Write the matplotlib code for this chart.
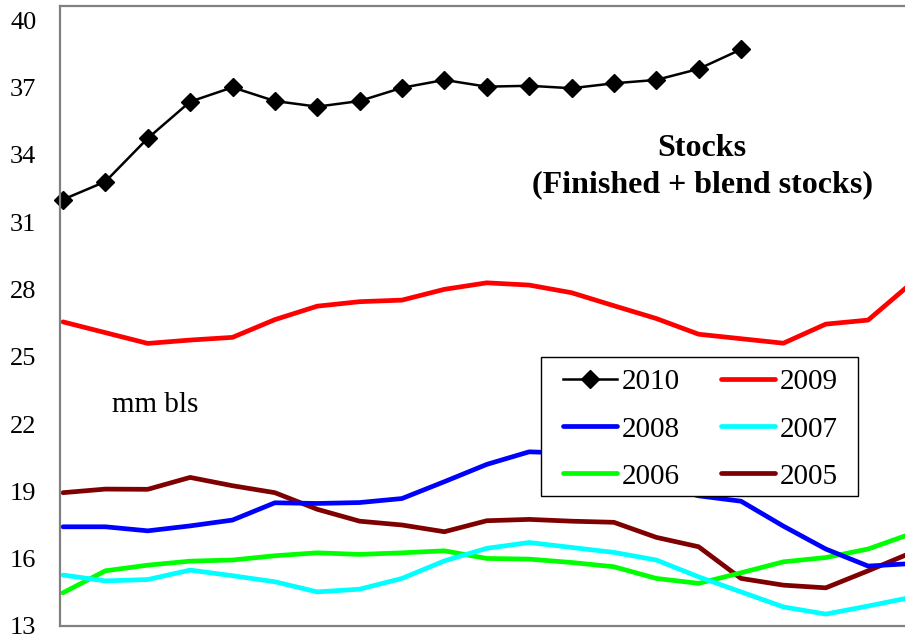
import matplotlib
matplotlib.use("Agg")
import matplotlib.pyplot as plt
from matplotlib.patches import Rectangle
import numpy as np

# weekly gasoline stocks, mm bls
s2010 = [32.0, 32.8, 34.73, 36.36, 37.0, 36.39, 36.14, 36.39, 36.98, 37.33,
         37.03, 37.07, 36.96, 37.18, 37.33, 37.82, 38.69]
s2009 = [26.55, 26.07, 25.59, 25.74, 25.86, 26.65, 27.25, 27.45, 27.52, 28.0,
         28.29, 28.19, 27.85, 27.27, 26.7, 26.0, 25.8, 25.6, 26.45, 26.63, 28.24]
s2008 = [17.42, 17.42, 17.24, 17.46, 17.72, 18.49, 18.46, 18.5, 18.68, 19.43,
         20.2, 20.76, 20.7, 20.2, 19.3, 18.8, 18.56, 17.45, 16.43, 15.67, 15.78]
s2007 = [15.27, 15.01, 15.07, 15.49, 15.24, 14.97, 14.52, 14.64, 15.12, 15.9,
         16.46, 16.72, 16.5, 16.28, 15.94, 15.19, 14.52, 13.85, 13.53, 13.89, 14.27]
s2006 = [14.48, 15.46, 15.71, 15.89, 15.94, 16.13, 16.26, 16.19, 16.26, 16.35,
         16.01, 15.98, 15.83, 15.64, 15.12, 14.9, 15.37, 15.86, 16.05, 16.43, 17.1]
s2005 = [18.94, 19.1, 19.09, 19.62, 19.25, 18.94, 18.2, 17.67, 17.5, 17.2,
         17.69, 17.75, 17.67, 17.62, 16.95, 16.53, 15.12, 14.82, 14.7, 15.46, 16.25]
y_ticks = [13, 16, 19, 22, 25, 28, 31, 34, 37, 40]

plt.rcParams['font.family'] = ['Liberation Serif', 'DejaVu Serif']

W, H = 905, 638
fig = plt.figure(figsize=(W / 100, H / 100), dpi=100)
# plot area: left spine at x=60, top at y=6, bottom at y=626, right side cut by image edge
ax = fig.add_axes([60 / W, (H - 626) / H, (W - 60) / W, 620 / H])

step = 42.375  # pixels per week
ax.set_xlim(-3 / step, (W - 63) / step)
ax.set_ylim(13, 40 + 14 / 22.44)

def xs(vals):
    return np.arange(len(vals))

lw = 3.4
l05, = ax.plot(xs(s2005), s2005, color='#7f0000', lw=lw, solid_capstyle='round')
l06, = ax.plot(xs(s2006), s2006, color='#00ff00', lw=lw, solid_capstyle='round')
l07, = ax.plot(xs(s2007), s2007, color='#00ffff', lw=lw, solid_capstyle='round')
l08, = ax.plot(xs(s2008), s2008, color='#0000ff', lw=lw, solid_capstyle='round')
l09, = ax.plot(xs(s2009), s2009, color='#ff0000', lw=lw, solid_capstyle='round')
l10, = ax.plot(xs(s2010), s2010, color='black', lw=1.8, marker='D', markersize=9,
               clip_on=False)

ax.set_yticks(y_ticks)
ax.set_yticklabels([str(t) for t in y_ticks], fontsize=19)
ax.tick_params(axis='y', length=0, pad=17)
ax.set_xticks([])
for side in ['left', 'top', 'bottom']:
    ax.spines[side].set_color('#808080')
    ax.spines[side].set_linewidth(1.6)
ax.spines['right'].set_visible(False)

ax.text(702 / W, 1 - 148 / H, 'Stocks', transform=fig.transFigure, ha='center',
        va='center', fontsize=23, fontweight='bold')
ax.text(702 / W, 1 - 185 / H, '(Finished + blend stocks)', transform=fig.transFigure,
        ha='center', va='center', fontsize=23, fontweight='bold')
ax.text(112 / W, 1 - 405 / H, 'mm bls', transform=fig.transFigure, ha='left',
        va='center', fontsize=21)

# legend box drawn by hand so the inner padding can differ per side
box = Rectangle((541 / W, 1 - 496 / H), 317 / W, 139 / H, transform=fig.transFigure,
                facecolor='white', edgecolor='black', linewidth=1.0, zorder=4,
                clip_on=False)
ax.add_patch(box)

handles = [l10, l08, l06, l09, l07, l05]
labels = ['2010', '2008', '2006', '2009', '2007', '2005']
leg = ax.legend(handles, labels, ncol=2, loc='upper left',
                bbox_to_anchor=(563 / W, 1 - 369 / H), bbox_transform=fig.transFigure,
                borderaxespad=0, borderpad=0, fontsize=21, handlelength=1.85,
                handletextpad=0.16, columnspacing=1.43, labelspacing=0.71,
                frameon=False)
leg.set_zorder(5)

fig.savefig('out.png', dpi=100)
